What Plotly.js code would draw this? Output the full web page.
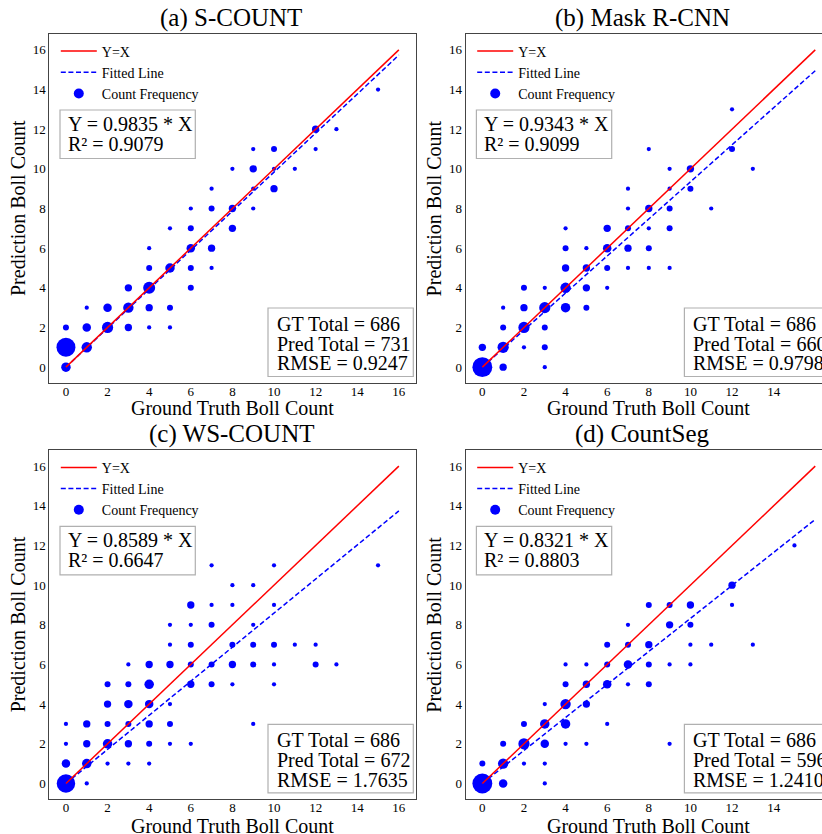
<!DOCTYPE html>
<html>
<head>
<meta charset="utf-8">
<script src="https://cdn.plot.ly/plotly-3.0.1.min.js"></script>
<style>html,body{margin:0;padding:0;overflow:hidden;background:#fff;}#chart{width:822px;height:834px;}</style>
</head>
<body>
<div id="chart"></div>
<script>
// ---------------- data ----------------
const panelTitles = ['(a) S-COUNT', '(b) Mask R-CNN', '(c) WS-COUNT', '(d) CountSeg'];
const slopes = [0.9835, 0.9343, 0.8589, 0.8321];
const r2Values = ['0.9079', '0.9099', '0.6647', '0.8803'];
const gtTotals = [686, 686, 686, 686];
const predTotals = [731, 660, 672, 596];
const rmseValues = ['0.9247', '0.9798', '1.7635', '1.2410'];
const tickValues = [0, 2, 4, 6, 8, 10, 12, 14, 16];
const lineX = [0, 16];

// (a) S-COUNT
const aGT   = [0,0,1, 0,1,2,3,4,5, 1,2,3,4,5, 3,4,6, 4,5,6,7, 4,6,7, 5,6,8, 6,7,8,9, 7,9,10, 8,9,10,11, 9,10,12, 12,13, 15];
const aPred = [0,1,1, 2,2,2,2,2,2, 3,3,3,3,3, 4,4,4, 5,5,5,5, 6,6,6, 7,7,7, 8,8,8,8, 9,9,9, 10,10,10,10, 11,11,11, 12,12, 14];
const aFreq = [5,20,6, 2,4,7,3,1,1, 1,4,6,3,2, 3,8,2, 2,5,2,1, 1,4,3, 1,2,3, 1,2,3,1, 1,1,3, 1,3,1,1, 1,2,1, 3,1, 1];

// (b) Mask R-CNN
const bGT   = [0,1,3, 0,1,2,3, 1,2,3, 1,2,3,4,5, 2,3,4,5,6, 4,5,6,7,8,9, 4,5,6,7,8, 4,6,7,8,9, 7,8,9,11, 7,9,10, 9,10,13, 8,12, 12];
const bPred = [0,0,0, 1,1,1,1, 2,2,2, 3,3,3,3,3, 4,4,4,4,4, 5,5,5,5,5,5, 6,6,6,6,6, 7,7,7,7,7, 8,8,8,8, 9,9,9, 10,10,10, 11,11, 13];
const bFreq = [22,3,1, 3,7,1,2, 2,7,2, 1,3,7,5,2, 2,1,6,3,1, 3,3,2,1,1,1, 2,1,4,3,2, 1,3,2,1,2, 1,3,2,1, 1,1,2, 1,3,1, 1,2, 1];

// (c) WS-COUNT
const cGT   = [0,1, 0,1,2,3,4, 0,1,2,3,4,5,6, 0,1,2,3,4,5,9, 2,3,4,5, 2,3,4,6,7,8,10, 3,4,5,6,7,8,9,10,12,13, 5,6,8,9,10,11,12, 5,6,7,9, 6,7,8,10, 8,9, 7,10,15];
const cPred = [0,0, 1,1,1,1,1, 2,2,2,2,2,2,2, 3,3,3,3,3,3,3, 4,4,4,4, 5,5,5,5,5,5,5, 6,6,6,6,6,6,6,6,6,6, 7,7,7,7,7,7,7, 8,8,8,8, 9,9,9,9, 10,10, 11,11,11];
const cFreq = [19,1, 4,5,1,1,1, 1,3,5,3,2,1,1, 1,3,2,2,3,2,1, 3,4,4,1, 2,2,5,3,2,1,1, 1,3,3,2,2,3,2,1,2,1, 1,2,2,2,2,1,1, 1,1,2,1, 3,1,1,1, 1,1, 1,1,1];

// (d) CountSeg
const dGT   = [0,1,3, 0,1,2,3, 1,2,3,4,5,9, 2,3,4,6, 3,4,5, 4,5,6,7,8, 4,5,6,7,8,9,10, 6,7,8,10,11,13, 7,9,10, 8,9,10,12, 12, 15];
const dPred = [0,0,0, 1,1,1,1, 2,2,2,2,2,2, 3,3,3,3, 4,4,4, 5,5,5,5,5, 6,6,6,6,6,6,6, 7,7,7,7,7,7, 8,8,8, 9,9,9,9, 10, 12];
const dFreq = [22,4,1, 2,6,1,1, 2,7,4,1,1,1, 2,5,5,1, 1,6,3, 2,3,4,1,2, 1,1,2,4,2,1,1, 2,2,3,1,1,1, 1,3,2, 2,2,3,1, 3, 1];

const gtSets = [aGT, bGT, cGT, dGT];
const predSets = [aPred, bPred, cPred, dPred];
const freqSets = [aFreq, bFreq, cFreq, dFreq];

// ---------------- layout helpers ----------------
const W = 822, H = 834;
const FONT = 'Liberation Serif, Times New Roman, serif';
const px = v => v / W;
const py = v => 1 - v / H;

// panel geometry in pixels: left spine, right spine, top spine, bottom spine, title centre, x-title centre
const geo = [
  {l: 49.3, r: 415.5, t: 34, b: 383, tc: 231, xt: 408},
  {l: 465.7, r: 822, t: 34, b: 383, tc: 642, xt: 408},
  {l: 49.3, r: 415.5, t: 450.3, b: 799.3, tc: 231, xt: 826},
  {l: 465.7, r: 822, t: 450.3, b: 799.3, tc: 642, xt: 826}
];
const pxPerUnit = (415.5 - 49.3) / 17.6;

const data = [];
const layout = {
  width: W, height: H,
  margin: {l: 0, r: 0, t: 0, b: 0},
  paper_bgcolor: '#fff', plot_bgcolor: '#fff',
  showlegend: true,
  font: {family: FONT, color: '#000'},
  annotations: [], shapes: []
};

for (let i = 0; i < 4; i++) {
  const sfx = i === 0 ? '' : String(i + 1);
  const xa = 'x' + sfx, ya = 'y' + sfx;
  const lg = 'legend' + sfx;
  const g = geo[i];
  const xMax = -0.8 + (g.r - g.l) / pxPerUnit;

  data.push({
    type: 'scatter', mode: 'markers', x: gtSets[i], y: predSets[i],
    xaxis: xa, yaxis: ya, legend: lg, showlegend: false,
    marker: {color: '#0000ff', opacity: 1, size: freqSets[i], sizemode: 'area', sizeref: 1/9, line: {width: 0}},
    hoverinfo: 'skip'
  });
  data.push({
    type: 'scatter', mode: 'lines', x: lineX, y: lineX.map(v => v * slopes[i]),
    xaxis: xa, yaxis: ya, legend: lg, name: 'Fitted Line', legendrank: 2,
    line: {color: '#0000ff', width: 1.5, dash: '5px,2.6px'}
  });
  data.push({
    type: 'scatter', mode: 'lines', x: lineX, y: lineX.slice(),
    xaxis: xa, yaxis: ya, legend: lg, name: 'Y=X', legendrank: 1,
    line: {color: '#ff0000', width: 1.5}
  });
  data.push({
    type: 'scatter', mode: 'markers', x: [null], y: [null],
    xaxis: xa, yaxis: ya, legend: lg, name: 'Count Frequency', legendrank: 3,
    marker: {color: '#0000ff', size: 10, opacity: 1}
  });

  const axCommon = {
    tickvals: tickValues, ticktext: tickValues.map(String),
    showgrid: false, zeroline: false, showline: true, linecolor: '#444', linewidth: 1,
    ticks: '', tickfont: {family: FONT, size: 13, color: '#000'}, fixedrange: true
  };
  layout['xaxis' + sfx] = Object.assign({}, axCommon, {
    domain: [px(g.l), Math.min(1, px(g.r))], range: [-0.8, xMax], anchor: ya, mirror: true,
    ticklabelstandoff: -4
  });
  layout['yaxis' + sfx] = Object.assign({}, axCommon, {
    domain: [py(g.b), py(g.t)], range: [-0.8, 16.8], anchor: xa, mirror: (i % 2 === 0)
  });
  layout[lg] = {
    x: px(g.l + 6.5), y: py(g.t + 1.5), xanchor: 'left', yanchor: 'top',
    bgcolor: 'rgba(0,0,0,0)', borderwidth: 0, itemwidth: 36,
    font: {family: FONT, size: 14, color: '#000'}, traceorder: 'normal'
  };

  const cx = g.l + 183.1;
  // subplot title
  layout.annotations.push({xref: 'paper', yref: 'paper', x: px(g.tc), y: py(g.t - 16),
    xanchor: 'center', yanchor: 'middle', showarrow: false, text: panelTitles[i],
    font: {family: FONT, size: 25, color: '#000'}});
  // axis titles
  layout.annotations.push({xref: 'paper', yref: 'paper', x: px(cx), y: py(g.xt),
    xanchor: 'center', yanchor: 'middle', showarrow: false, text: 'Ground Truth Boll Count',
    font: {family: FONT, size: 20, color: '#000'}});
  layout.annotations.push({xref: 'paper', yref: 'paper', x: px(g.l - 31.8), y: py((g.t + g.b) / 2),
    xanchor: 'center', yanchor: 'middle', showarrow: false, text: 'Prediction Boll Count', textangle: -90,
    font: {family: FONT, size: 20, color: '#000'}});

  // equation box
  const eqTop = g.t + 76, eqBot = g.t + 124.5;
  layout.shapes.push({type: 'rect', xref: 'paper', yref: 'paper', layer: 'above',
    x0: px(g.l + 10.7), x1: px(g.l + 146), y0: py(eqBot), y1: py(eqTop),
    line: {color: '#b0b0b0', width: 1.2}, fillcolor: 'rgba(255,255,255,0.85)'});
  const eqLines = ['Y = ' + slopes[i].toFixed(4) + ' * X', 'R² = ' + r2Values[i]];
  eqLines.forEach((t, k) => layout.annotations.push({xref: 'paper', yref: 'paper',
    x: px(g.l + 16.5), y: py(g.t + 90 + k * 19.8), xanchor: 'left', yanchor: 'middle', showarrow: false,
    text: t, font: {family: FONT, size: 20, color: '#000'}}));

  // stats box
  const stTop = g.b - 75, stBot = g.b - 6.5;
  layout.shapes.push({type: 'rect', xref: 'paper', yref: 'paper', layer: 'above',
    x0: px(g.l + 218.7), x1: px(g.l + 364), y0: py(stBot), y1: py(stTop),
    line: {color: '#b0b0b0', width: 1.2}, fillcolor: 'rgba(255,255,255,0.85)'});
  const stLines = ['GT Total = ' + gtTotals[i], 'Pred Total = ' + predTotals[i], 'RMSE = ' + rmseValues[i]];
  stLines.forEach((t, k) => layout.annotations.push({xref: 'paper', yref: 'paper',
    x: px(g.l + 225.5), y: py(g.b - 59 + k * 19.7), xanchor: 'left', yanchor: 'middle', showarrow: false,
    text: t, font: {family: FONT, size: 20, color: '#000'}}));
}

Plotly.newPlot('chart', data, layout, {staticPlot: true, displayModeBar: false});
</script>
</body>
</html>
